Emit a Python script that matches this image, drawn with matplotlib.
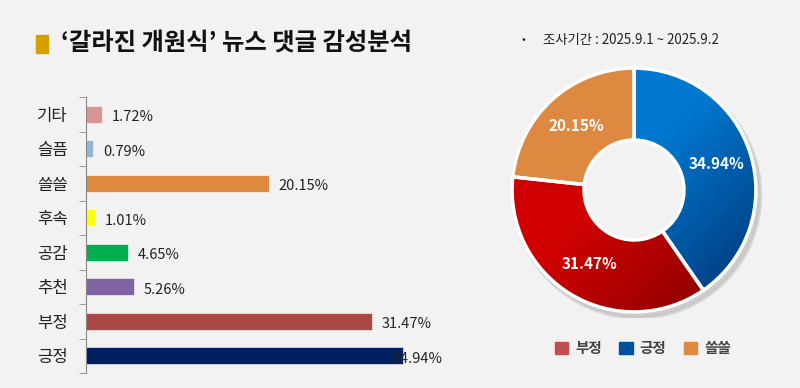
import numpy as np
import matplotlib
matplotlib.use('Agg')
import matplotlib.pyplot as plt
from matplotlib.patches import Rectangle
from matplotlib.colors import LinearSegmentedColormap

plt.rcParams['font.family'] = ['Noto Sans CJK KR', 'DejaVu Sans']

# bar chart data (top to bottom)
categories = ['기타', '슬픔', '쓸쓸', '후속', '공감', '추천', '부정', '긍정']
values = [1.72, 0.79, 20.15, 1.01, 4.65, 5.26, 31.47, 34.94]
bar_colors = ['#D99594', '#95B3D7', '#DE8940', '#FFFF00', '#00B050', '#8064A2', '#AA4643', '#002060']

# donut data (clockwise from top)
pie_labels = ['긍정', '부정', '쓸쓸']
pie_values = [34.94, 31.47, 20.15]
legend_order = ['부정', '긍정', '쓸쓸']
legend_colors = {'부정': '#C0504D', '긍정': '#0050A0', '쓸쓸': '#DE8940'}

bg = '#F2F2F2'
fig = plt.figure(figsize=(8, 3.88), dpi=100, facecolor=bg)

# title
fig.patches.append(Rectangle((36 / 800, 1 - 53 / 388), 12 / 800, 18 / 388,
                             transform=fig.transFigure, color='#D4A000', zorder=5))
fig.text(61 / 800, 1 - 44 / 388, '‘갈라진 개원식’ 뉴스 댓글 감성분석', fontsize=17.5,
         fontweight='bold', va='center', ha='left', color='#111111')
fig.text(521 / 800, 1 - 40 / 388, '•', fontsize=8, va='center', color='#222222')
fig.text(543 / 800, 1 - 40 / 388, '조사기간 : 2025.9.1 ~ 2025.9.2', fontsize=9.6,
         va='center', color='#222222')

# bar chart
ax = fig.add_axes([86 / 800, 1 - 373 / 388, 363 / 800, 276 / 388])
ax.set_facecolor(bg)
y = np.arange(len(categories))
ax.barh(y, values, height=0.5, color=bar_colors, edgecolor='white', linewidth=0.4)
ax.set_xlim(0, 40)
ax.set_ylim(len(categories) - 0.5, -0.5)
ax.set_yticks(y)
ax.set_yticklabels(categories, fontsize=12, color='#222222')
ax.set_yticks(np.arange(len(categories) + 1) - 0.5, minor=True)
ax.tick_params(axis='y', which='major', length=0, pad=13)
ax.tick_params(axis='y', which='minor', length=5, color='#888888', direction='out')
ax.set_xticks([])
for s in ['top', 'right', 'bottom']:
    ax.spines[s].set_visible(False)
ax.spines['left'].set_color('#888888')
for i, v in enumerate(values):
    off = 1.1 if v < 34 else -1.1
    ax.text(v + off, i + 0.08, f'{v:.2f}%', va='center', ha='left', fontsize=10.5,
            color='#222222', zorder=5)

# donut chart
pax = fig.add_axes([506 / 800, 1 - 318 / 388, 256 / 800, 256 / 388])
pax.set_facecolor('none')

# soft shadow
for k, a in enumerate([0.05, 0.05, 0.05]):
    sh = plt.Circle((0.03, -0.04), 1.0 + 0.01 * k, color='black', alpha=a, zorder=0)
    pax.add_patch(sh)
hole = plt.Circle((0.0, 0.0), 0.41, color=bg, zorder=0.5)
pax.add_patch(hole)

wedges, _ = pax.pie(pie_values, radius=1.0, startangle=90, counterclock=False,
                    colors=['#0070C0', '#C00000', '#DE8940'],
                    wedgeprops=dict(width=0.59, edgecolor='white', linewidth=2.5))

gx, gy = np.meshgrid(np.linspace(-1, 1, 300), np.linspace(1, -1, 300))
grad = np.clip((gx - gy + 0.2) / 2.4, 0, 1)
cmaps = {
    0: LinearSegmentedColormap.from_list('b', ['#0078D0', '#002A66']),
    1: LinearSegmentedColormap.from_list('r', ['#D00000', '#780000']),
}
for idx, cm in cmaps.items():
    im = pax.imshow(grad, cmap=cm, extent=[-1, 1, -1, 1], zorder=wedges[idx].get_zorder() - 0.1,
                    vmin=0, vmax=1)
    im.set_clip_path(wedges[idx])
    wedges[idx].set_facecolor('none')
    wedges[idx].set_zorder(3)
pax.set_xlim(-1.05, 1.05)
pax.set_ylim(-1.05, 1.05)
pax.set_aspect('equal')
pax.axis('off')

for w, v in zip(wedges, pie_values):
    ang = np.deg2rad((w.theta1 + w.theta2) / 2)
    r = 0.71
    pax.text(r * np.cos(ang), r * np.sin(ang), f'{v:.2f}%', ha='center', va='center',
             color='white', fontsize=11, fontweight='bold', zorder=5)

handles = [Rectangle((0, 0), 1, 1, color=legend_colors[n]) for n in legend_order]
leg = fig.legend(handles, legend_order, loc='center', bbox_to_anchor=(643 / 800, 1 - 348 / 388),
                 ncol=3, frameon=False, handlelength=0.9, handleheight=0.9,
                 columnspacing=1.2, handletextpad=0.5,
                 prop={'size': 10.5, 'weight': 'bold'})
for t in leg.get_texts():
    t.set_color('#444444')

fig.savefig('out.png', dpi=100, facecolor=bg)
